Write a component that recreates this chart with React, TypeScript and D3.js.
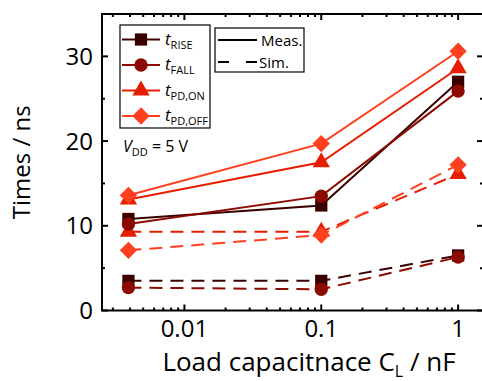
import React, { useEffect, useRef } from "react";
import * as d3 from "d3";

// load capacitance in nF
const loadCap = [0.0039, 0.1, 1];

// measured times (ns)
const riseMeas = [10.8, 12.4, 27.0];
const fallMeas = [10.2, 13.5, 25.9];
const pdOnMeas = [13.1, 17.5, 28.6];
const pdOffMeas = [13.6, 19.7, 30.6];

// simulated times (ns)
const riseSim = [3.5, 3.5, 6.5];
const fallSim = [2.7, 2.5, 6.3];
const pdOnSim = [9.3, 9.3, 16.1];
const pdOffSim = [7.1, 8.9, 17.2];

const yTicks = [0, 10, 20, 30];
const yMinorTicks = [5, 15, 25];
const xTickLabels = ["0.01", "0.1", "1"];

const seriesNames = ["RISE", "FALL", "PD,ON", "PD,OFF"];
const seriesColors = ["#3a0000", "#8c0a00", "#e51e00", "#ff4020"];
const seriesShapes = ["square", "circle", "triangle", "diamond"];

const FONT = "'Open Sans', sans-serif";

const App = () => {
  const svgRef = useRef<SVGSVGElement | null>(null);

  useEffect(() => {
    const svg = d3.select(svgRef.current);
    svg.selectAll("*").remove();

    const width = 482;
    const height = 381;
    const left = 102;
    const right = 483;
    const top = 14;
    const bottom = 310.5;

    const x = d3.scaleLog().domain([0.0025, 1.52]).range([left, right]);
    const y = d3.scaleLinear().domain([0, 35]).range([bottom, top]);

    svg.attr("width", width).attr("height", height);

    const symbolFor = (shape: string) => {
      if (shape === "square") return d3.symbol(d3.symbolSquare, 150)();
      if (shape === "circle") return d3.symbol(d3.symbolCircle, 140)();
      if (shape === "triangle") return d3.symbol(d3.symbolTriangle, 130)();
      // diamond: rotated square
      return d3.symbol(d3.symbolSquare, 150)();
    };
    const symbolRotate = (shape: string) => (shape === "diamond" ? 45 : 0);

    const measured = [riseMeas, fallMeas, pdOnMeas, pdOffMeas];
    const simulated = [riseSim, fallSim, pdOnSim, pdOffSim];

    const line = d3
      .line<number>()
      .x((d, i) => x(loadCap[i]))
      .y((d) => y(d));

    const plot = svg.append("g");

    // simulated dashed lines
    simulated.forEach((vals, k) => {
      plot
        .append("path")
        .attr("d", line(vals))
        .attr("fill", "none")
        .attr("stroke", seriesColors[k])
        .attr("stroke-width", 2)
        .attr("stroke-dasharray", "13,8");
    });

    // measured solid lines
    measured.forEach((vals, k) => {
      plot
        .append("path")
        .attr("d", line(vals))
        .attr("fill", "none")
        .attr("stroke", seriesColors[k])
        .attr("stroke-width", 2);
    });

    // markers
    [...simulated, ...measured].forEach((vals, j) => {
      const k = j % 4;
      vals.forEach((v, i) => {
        plot
          .append("path")
          .attr("d", symbolFor(seriesShapes[k]))
          .attr(
            "transform",
            `translate(${x(loadCap[i])},${y(v)}) rotate(${symbolRotate(seriesShapes[k])})`
          )
          .attr("fill", seriesColors[k]);
      });
    });

    // frame
    svg
      .append("rect")
      .attr("x", left)
      .attr("y", top)
      .attr("width", right - left)
      .attr("height", bottom - top)
      .attr("fill", "none")
      .attr("stroke", "black")
      .attr("stroke-width", 2);

    // y ticks (inside, both sides)
    const tickG = svg.append("g").attr("stroke", "black").attr("stroke-width", 2);
    yTicks.forEach((t) => {
      tickG.append("line").attr("x1", left).attr("x2", left + 6).attr("y1", y(t)).attr("y2", y(t));
      tickG.append("line").attr("x1", right).attr("x2", right - 6).attr("y1", y(t)).attr("y2", y(t));
    });
    yMinorTicks.forEach((t) => {
      tickG.append("line").attr("x1", left).attr("x2", left + 3).attr("y1", y(t)).attr("y2", y(t));
      tickG.append("line").attr("x1", right).attr("x2", right - 3).attr("y1", y(t)).attr("y2", y(t));
    });

    // x ticks (log)
    const majors = [0.01, 0.1, 1];
    const minors: number[] = [];
    [0.001, 0.01, 0.1, 1].forEach((dec) => {
      for (let m = 2; m <= 9; m++) {
        const v = dec * m;
        if (v >= 0.0025 && v <= 1.52) minors.push(v);
      }
    });
    majors.forEach((t) => {
      tickG.append("line").attr("x1", x(t)).attr("x2", x(t)).attr("y1", bottom).attr("y2", bottom - 6);
      tickG.append("line").attr("x1", x(t)).attr("x2", x(t)).attr("y1", top).attr("y2", top + 6);
    });
    minors.forEach((t) => {
      tickG.append("line").attr("x1", x(t)).attr("x2", x(t)).attr("y1", bottom).attr("y2", bottom - 3);
      tickG.append("line").attr("x1", x(t)).attr("x2", x(t)).attr("y1", top).attr("y2", top + 3);
    });

    // tick labels
    yTicks.forEach((t) => {
      svg
        .append("text")
        .attr("x", left - 9)
        .attr("y", y(t))
        .attr("dy", "0.36em")
        .attr("text-anchor", "end")
        .attr("font-family", FONT)
        .attr("font-size", 24)
        .text(t);
    });
    majors.forEach((t, i) => {
      svg
        .append("text")
        .attr("x", x(t))
        .attr("y", 337)
        .attr("text-anchor", "middle")
        .attr("font-family", FONT)
        .attr("font-size", 24)
        .text(xTickLabels[i]);
    });

    // axis titles
    svg
      .append("text")
      .attr("transform", `translate(30,${(top + bottom) / 2}) rotate(-90)`)
      .attr("text-anchor", "middle")
      .attr("font-family", FONT)
      .attr("font-size", 24)
      .text("Times / ns");

    const xt = svg
      .append("text")
      .attr("x", 309)
      .attr("y", 371)
      .attr("text-anchor", "middle")
      .attr("font-family", FONT)
      .attr("font-size", 26);
    xt.append("tspan").text("Load capacitnace C");
    xt.append("tspan").attr("font-size", 16).attr("dy", 6).text("L");
    xt.append("tspan").attr("dy", -6).text(" / nF");

    // legend 1: series
    svg
      .append("rect")
      .attr("x", 120)
      .attr("y", 25)
      .attr("width", 90)
      .attr("height", 103)
      .attr("fill", "white")
      .attr("stroke", "black")
      .attr("stroke-width", 1.2);
    seriesNames.forEach((name, k) => {
      const ly = 39.5 + k * 25.5;
      svg
        .append("line")
        .attr("x1", 122)
        .attr("x2", 160)
        .attr("y1", ly)
        .attr("y2", ly)
        .attr("stroke", seriesColors[k])
        .attr("stroke-width", 2);
      svg
        .append("path")
        .attr("d", symbolFor(seriesShapes[k]))
        .attr("transform", `translate(141,${ly}) rotate(${symbolRotate(seriesShapes[k])})`)
        .attr("fill", seriesColors[k]);
      const tx = svg
        .append("text")
        .attr("x", 165)
        .attr("y", ly + 5)
        .attr("font-family", FONT)
        .attr("font-size", 17);
      tx.append("tspan").attr("font-style", "italic").text("t");
      tx.append("tspan").attr("font-size", 11).attr("dy", 4).text(name);
    });

    // legend 2: line styles
    svg
      .append("rect")
      .attr("x", 215)
      .attr("y", 28)
      .attr("width", 89)
      .attr("height", 44)
      .attr("fill", "white")
      .attr("stroke", "black")
      .attr("stroke-width", 1.2);
    svg
      .append("line")
      .attr("x1", 218)
      .attr("x2", 257)
      .attr("y1", 40)
      .attr("y2", 40)
      .attr("stroke", "black")
      .attr("stroke-width", 2);
    svg
      .append("line")
      .attr("x1", 218)
      .attr("x2", 257)
      .attr("y1", 62)
      .attr("y2", 62)
      .attr("stroke", "black")
      .attr("stroke-width", 2)
      .attr("stroke-dasharray", "11,17,11");
    svg
      .append("text")
      .attr("x", 261)
      .attr("y", 45.5)
      .attr("font-family", FONT)
      .attr("font-size", 15)
      .text("Meas.");
    svg
      .append("text")
      .attr("x", 259)
      .attr("y", 67.5)
      .attr("font-family", FONT)
      .attr("font-size", 15)
      .text("Sim.");

    // supply voltage annotation
    const vt = svg
      .append("text")
      .attr("x", 123)
      .attr("y", 152)
      .attr("font-family", FONT)
      .attr("font-size", 16);
    vt.append("tspan").attr("font-style", "italic").text("V");
    vt.append("tspan").attr("font-size", 11).attr("dy", 4).text("DD");
    vt.append("tspan").attr("dy", -4).text(" = 5 V");
  }, []);

  return (
    <svg
      ref={svgRef}
      style={{ position: "absolute", left: 0, top: 0, background: "white" }}
    ></svg>
  );
};

export default App;
